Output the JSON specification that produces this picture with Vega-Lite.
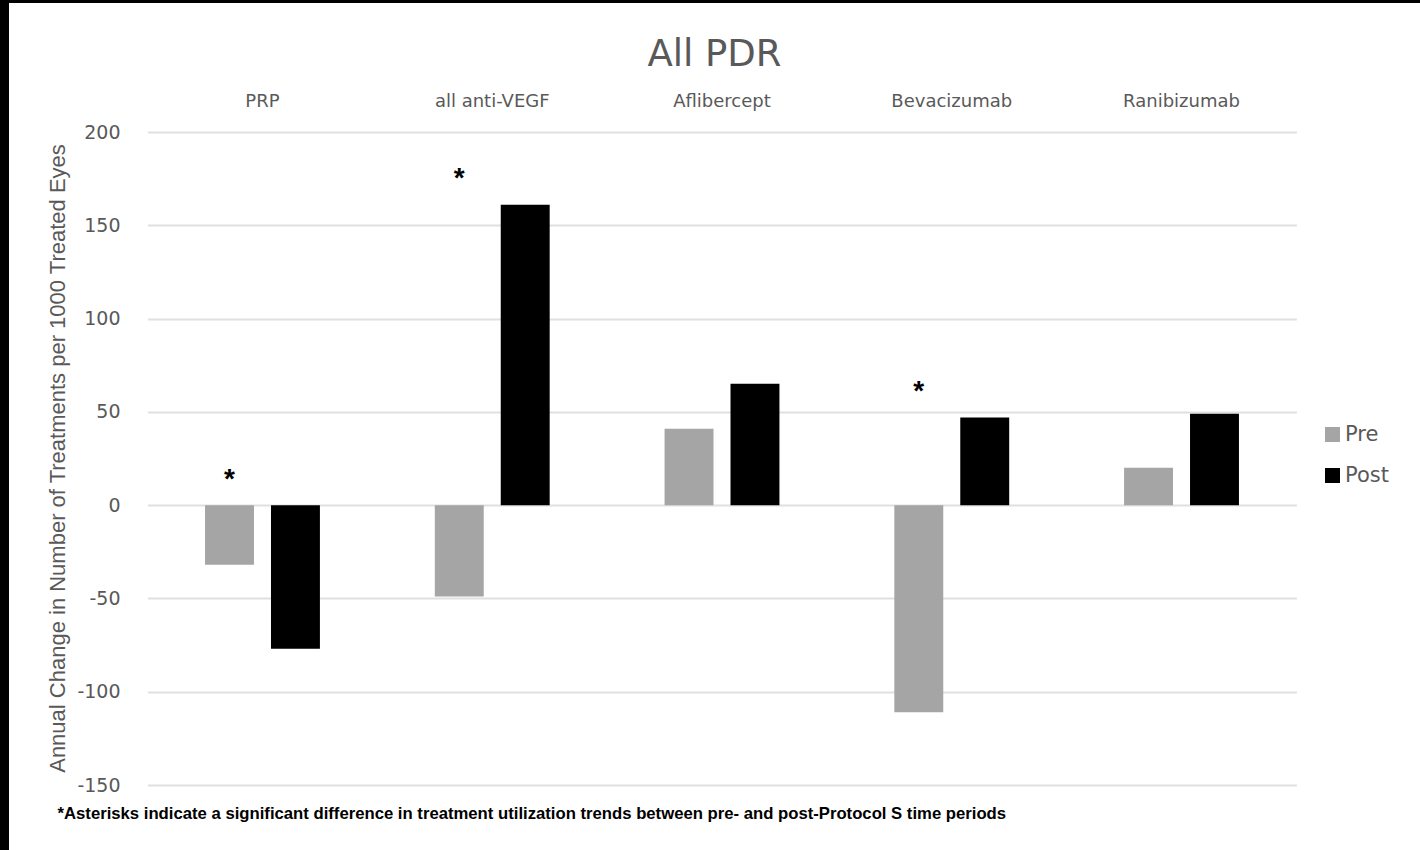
{
  "$schema": "https://vega.github.io/schema/vega-lite/v6.json",
  "width": 1411,
  "height": 847,
  "autosize": {"type": "none"},
  "padding": {"left": 9, "top": 3, "right": 0, "bottom": 0},
  "background": "#000000",
  "title": {
    "text": "All PDR",
    "orient": "top",
    "anchor": "middle",
    "frame": "group",
    "offset": -100,
    "baseline": "alphabetic",
    "font": "DejaVu Sans",
    "fontSize": 37,
    "fontWeight": "normal",
    "color": "#595959"
  },
  "config": {
    "view": {"fill": "#ffffff", "stroke": null},
    "font": "DejaVu Sans"
  },
  "datasets": {
    "bars": [
      {"category": "PRP", "period": "Pre", "value": -32},
      {"category": "PRP", "period": "Post", "value": -77},
      {"category": "all anti-VEGF", "period": "Pre", "value": -49},
      {"category": "all anti-VEGF", "period": "Post", "value": 161},
      {"category": "Aflibercept", "period": "Pre", "value": 41},
      {"category": "Aflibercept", "period": "Post", "value": 65},
      {"category": "Bevacizumab", "period": "Pre", "value": -111},
      {"category": "Bevacizumab", "period": "Post", "value": 47},
      {"category": "Ranibizumab", "period": "Pre", "value": 20},
      {"category": "Ranibizumab", "period": "Post", "value": 49}
    ],
    "significance": [
      {"category": "PRP", "period": "Pre", "marker": 15.5},
      {"category": "all anti-VEGF", "period": "Pre", "marker": 177},
      {"category": "Bevacizumab", "period": "Pre", "marker": 63}
    ]
  },
  "layer": [
    {
      "data": {"name": "bars"},
      "mark": {"type": "bar"},
      "encoding": {
        "x": {
          "field": "category",
          "type": "nominal",
          "sort": ["PRP", "all anti-VEGF", "Aflibercept", "Bevacizumab", "Ranibizumab"],
          "scale": {"range": [138.6, 1287.4], "paddingInner": 0, "paddingOuter": 0},
          "axis": {
            "orient": "top",
            "offset": -107,
            "labelAngle": 0,
            "labelFont": "DejaVu Sans",
            "labelFontSize": 18,
            "labelColor": "#595959",
            "labelPadding": 0,
            "ticks": false,
            "tickSize": 0,
            "domain": false,
            "grid": false,
            "title": "*Asterisks indicate a significant difference in treatment utilization trends between pre- and post-Protocol S time periods",
            "titleX": 48,
            "titleY": 703,
            "titleAlign": "left",
            "titleAnchor": "start",
            "titleBaseline": "middle",
            "titleFont": "Liberation Sans",
            "titleFontSize": 16.7,
            "titleFontWeight": "bold",
            "titleColor": "#000000"
          }
        },
        "xOffset": {
          "field": "period",
          "type": "nominal",
          "sort": ["Pre", "Post"],
          "scale": {"domain": ["Pre", "Post"], "paddingInner": 0.258, "paddingOuter": 0.871}
        },
        "y": {
          "field": "value",
          "type": "quantitative",
          "scale": {"domain": [-150, 200], "range": [782, 129], "nice": false},
          "axis": {
            "orient": "left",
            "offset": -111,
            "values": [-150, -100, -50, 0, 50, 100, 150, 200],
            "labelExpr": "'' + datum.value",
            "grid": true,
            "gridColor": "#e0e0e0",
            "gridWidth": 2,
            "domain": false,
            "ticks": false,
            "tickSize": 0,
            "labelPadding": 0,
            "labelFont": "DejaVu Sans",
            "labelFontSize": 19,
            "labelColor": "#595959",
            "title": "Annual Change in Number of Treatments per 1000 Treated Eyes",
            "titleX": -63,
            "titleY": 455,
            "titleAngle": 270,
            "titleAlign": "center",
            "titleBaseline": "middle",
            "titleFont": "Liberation Sans",
            "titleFontSize": 22,
            "titleFontWeight": "normal",
            "titleColor": "#595959"
          }
        },
        "color": {
          "field": "period",
          "type": "nominal",
          "sort": ["Pre", "Post"],
          "scale": {"domain": ["Pre", "Post"], "range": ["#a5a5a5", "#000000"]},
          "legend": {
            "orient": "none",
            "legendX": 1313,
            "legendY": 421,
            "title": null,
            "symbolType": "square",
            "symbolSize": 225,
            "symbolStrokeWidth": 0,
            "labelFont": "DejaVu Sans",
            "labelFontSize": 21,
            "labelColor": "#595959",
            "labelOffset": 2,
            "rowPadding": 19,
            "padding": 0
          }
        }
      }
    },
    {
      "data": {"name": "significance"},
      "mark": {
        "type": "text",
        "text": "*",
        "font": "Liberation Sans",
        "fontSize": 28,
        "fontWeight": "bold",
        "color": "#000000",
        "baseline": "alphabetic",
        "align": "center",
        "dy": 12
      },
      "encoding": {
        "x": {"field": "category", "type": "nominal", "sort": ["PRP", "all anti-VEGF", "Aflibercept", "Bevacizumab", "Ranibizumab"]},
        "xOffset": {"field": "period", "type": "nominal", "sort": ["Pre", "Post"]},
        "y": {"field": "marker", "type": "quantitative"}
      }
    }
  ]
}
